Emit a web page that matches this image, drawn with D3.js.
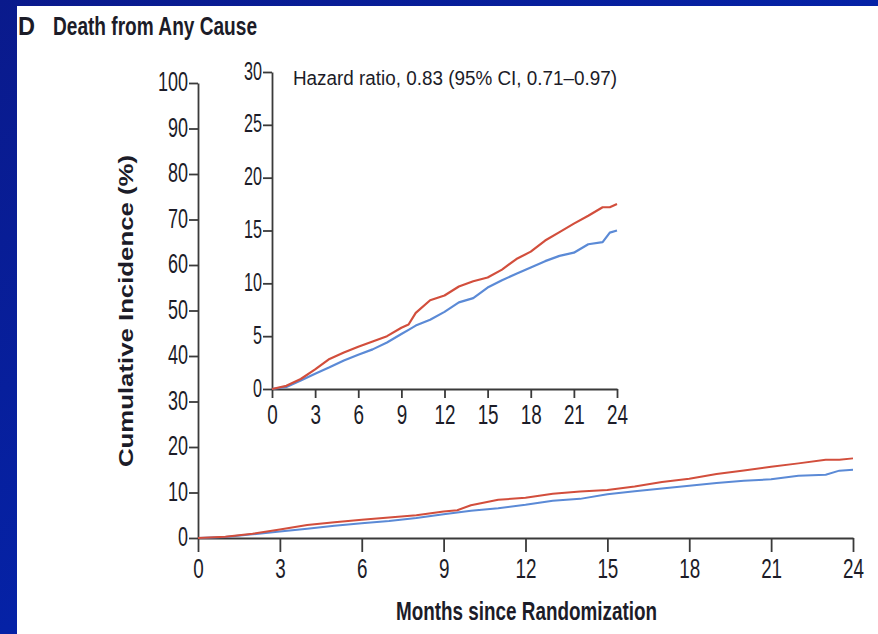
<!DOCTYPE html>
<html><head><meta charset="utf-8">
<script src="https://cdn.jsdelivr.net/npm/d3@7"></script>
<style>
html,body{margin:0;padding:0;overflow:hidden;}
svg{display:block;}
text{font-family:"Liberation Sans",Arial,sans-serif;fill:#1c1c28;}
</style></head>
<body>
<svg id="chart" width="878" height="634"></svg>
<script>
// ---- data ----
const months      = [0,1,2,3,4,5,6,7,8,9,9.5,10,11,12,13,14,15,16,17,18,19,20,21,22,23,23.5,24];
const controlPct  = [0,0.3,0.95,1.85,2.85,3.45,4.0,4.5,5.0,5.8,6.1,7.2,8.4,8.85,9.7,10.2,10.55,11.3,12.3,13.0,14.05,14.85,15.65,16.4,17.2,17.2,17.5];
const treatPct    = [0,0.2,0.8,1.45,2.05,2.7,3.25,3.75,4.4,5.2,5.6,6.0,6.55,7.3,8.2,8.6,9.6,10.3,10.9,11.5,12.1,12.6,12.9,13.7,13.9,14.8,15.0];
const xTicks      = [0,3,6,9,12,15,18,21,24];
const mainYTicks  = [0,10,20,30,40,50,60,70,80,90,100];
const insetYTicks = [0,5,10,15,20,25,30];
const titleLetter = "D";
const titleText   = "Death from Any Cause";
const yTitle      = "Cumulative Incidence (%)";
const xTitle      = "Months since Randomization";
const hrText      = "Hazard ratio, 0.83 (95% CI, 0.71\u20130.97)";

const RED = "#d24e3c", BLUE = "#5b8ad6", AXIS = "#3a3a3a";

const svg = d3.select("#chart");
// background
const defs = svg.append("defs");
const g1 = defs.append("linearGradient").attr("id","bg").attr("x1","0").attr("y1","0").attr("x2","1").attr("y2","1");
g1.append("stop").attr("offset","0").attr("stop-color","#0a1a8c");
g1.append("stop").attr("offset","0.5").attr("stop-color","#0522a6");
g1.append("stop").attr("offset","1").attr("stop-color","#0a1a8c");
svg.append("rect").attr("width",878).attr("height",634).attr("fill","url(#bg)");
svg.append("rect").attr("x",17).attr("y",6).attr("width",861).attr("height",628).attr("fill","#fff");

const series = [
  {vals: treatPct, color: BLUE},
  {vals: controlPct, color: RED}
];

// title
svg.append("text").attr("x",18).attr("y",35).attr("font-size",26).attr("font-weight","bold")
  .attr("textLength",17).attr("lengthAdjust","spacingAndGlyphs").text(titleLetter);
svg.append("text").attr("x",53).attr("y",35).attr("font-size",25).attr("font-weight","bold")
  .attr("textLength",204).attr("lengthAdjust","spacingAndGlyphs").text(titleText);

function styleAxis(g, digitW, fs){
  g.select(".domain").attr("stroke",AXIS).attr("stroke-width",1.8);
  g.selectAll(".tick line").attr("stroke",AXIS).attr("stroke-width",1.8);
  g.selectAll(".tick text").attr("font-size",fs).attr("fill","#1c1c28")
    .attr("font-family","'Liberation Sans',Arial,sans-serif")
    .each(function(){ const t=d3.select(this); t.attr("textLength", t.text().length*digitW).attr("lengthAdjust","spacingAndGlyphs"); });
}

// ---- main chart ----
const x = d3.scaleLinear().domain([0,24]).range([198,853]);
const y = d3.scaleLinear().domain([0,100]).range([538,83]);

const gx = svg.append("g").attr("transform","translate(0,538)")
  .call(d3.axisBottom(x).tickValues(xTicks).tickSize(14).tickSizeOuter(0).tickPadding(7));
styleAxis(gx, 10.5, 27);
gx.selectAll(".tick text").attr("dy","0.72em");

const gy = svg.append("g").attr("transform","translate(198,0)")
  .call(d3.axisLeft(y).tickValues(mainYTicks).tickSize(9).tickSizeOuter(0).tickPadding(1));
styleAxis(gy, 10, 27);
gy.selectAll(".tick text").attr("dy","0.28em");

const line = d3.line().x((d,i)=>x(months[i])).y(d=>y(d));
series.forEach(s=>{
  svg.append("path").attr("d",line(s.vals)).attr("fill","none").attr("stroke",s.color)
    .attr("stroke-width",2).attr("stroke-linejoin","round");
});

// axis titles
svg.append("text").attr("transform","translate(133,311) rotate(-90)").attr("text-anchor","middle")
  .attr("font-size",21).attr("font-weight","bold").attr("textLength",312).attr("lengthAdjust","spacingAndGlyphs")
  .text(yTitle);
svg.append("text").attr("x",396).attr("y",620).attr("font-size",26).attr("font-weight","bold")
  .attr("textLength",261).attr("lengthAdjust","spacingAndGlyphs").text(xTitle);

// ---- inset ----
const xi = d3.scaleLinear().domain([0,24]).range([272,617]);
const yi = d3.scaleLinear().domain([0,30]).range([389,72]);

const gxi = svg.append("g").attr("transform","translate(0,389)")
  .call(d3.axisBottom(xi).tickValues(xTicks).tickSize(9).tickSizeOuter(0).tickPadding(6));
styleAxis(gxi, 10.5, 28);
gxi.selectAll(".tick text").attr("dy","0.72em");

const gyi = svg.append("g").attr("transform","translate(272,0)")
  .call(d3.axisLeft(yi).tickValues(insetYTicks).tickSize(9).tickSizeOuter(0).tickPadding(1));
styleAxis(gyi, 9, 25);
gyi.selectAll(".tick text").attr("dy","0.28em");

const linei = d3.line().x((d,i)=>xi(months[i])).y(d=>yi(d));
series.forEach(s=>{
  svg.append("path").attr("d",linei(s.vals)).attr("fill","none").attr("stroke",s.color)
    .attr("stroke-width",2.2).attr("stroke-linejoin","round");
});

svg.append("text").attr("x",293).attr("y",85).attr("font-size",20)
  .attr("textLength",324).attr("lengthAdjust","spacingAndGlyphs").text(hrText);
</script>
</body></html>
